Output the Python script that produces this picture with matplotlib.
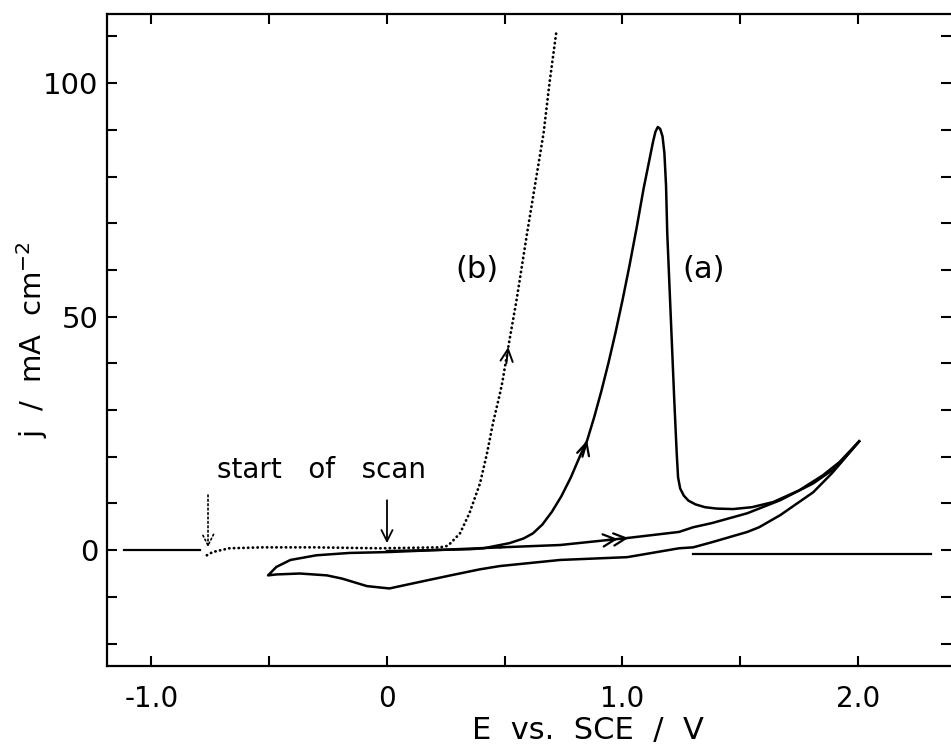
import matplotlib
matplotlib.use('Agg')
import matplotlib.pyplot as plt

# curve (a), first forward scan from 0 V up to the anodic limit
a_fwd_E = [0.0, 0.18, 0.35, 0.41, 0.52, 0.58, 0.62, 0.66, 0.70, 0.74, 0.78, 0.82, 0.85,
           0.88, 0.91, 0.94, 0.97, 1.00, 1.03, 1.06, 1.09, 1.11, 1.13, 1.14, 1.15, 1.16,
           1.17, 1.178, 1.185, 1.19, 1.20, 1.21, 1.22, 1.23, 1.236, 1.245, 1.26, 1.28,
           1.31, 1.35, 1.40, 1.47, 1.55, 1.64, 1.75, 1.85, 1.92, 2.005]
a_fwd_j = [-0.2, 0.0, 0.2, 0.4, 1.5, 2.5, 3.6, 5.5, 8.2, 11.5, 15.5, 20.2, 23.5,
           28.5, 34.0, 40.0, 46.5, 53.5, 61.0, 69.0, 77.5, 82.5, 87.5, 89.6, 90.6, 90.2,
           88.6, 85.0, 78.0, 68.0, 56.0, 44.0, 32.0, 21.0, 15.6, 13.2, 11.7, 10.6,
           9.8, 9.2, 8.9, 8.8, 9.2, 10.3, 12.8, 16.0, 18.8, 23.3]

# curve (a), reverse scan down to -0.5 V and back up to 0 V
a_rev_E = [2.005, 1.89, 1.81, 1.67, 1.58, 1.53, 1.38, 1.30, 1.24, 1.02, 0.735, 0.48, 0.395,
           0.27, 0.13, 0.01, -0.085, -0.19, -0.255, -0.37, -0.47, -0.505,
           -0.47, -0.41, -0.30, -0.16, 0.01, 0.20, 0.48]
a_rev_j = [23.3, 16.5, 12.4, 7.5, 4.9, 3.9, 1.7, 0.6, 0.4, -1.5, -2.1, -3.4, -4.1,
           -5.4, -6.9, -8.2, -7.7, -6.1, -5.4, -5.0, -5.2, -5.4,
           -3.6, -2.1, -1.1, -0.6, -0.4, 0.0, 0.6]

# curve (a), second forward scan
a_fwd2_E = [0.48, 0.735, 1.02, 1.24, 1.30, 1.38, 1.53, 1.67, 1.81, 1.91, 2.005]
a_fwd2_j = [0.6, 1.1, 2.6, 3.9, 4.9, 5.8, 7.9, 10.7, 14.3, 17.8, 23.3]

# curve (b), dotted
b_E = [-0.765, -0.74, -0.67, -0.53, -0.31, -0.03, 0.225, 0.255, 0.27, 0.31, 0.35, 0.395,
       0.425, 0.45, 0.48, 0.49, 0.515, 0.55, 0.595, 0.63, 0.665, 0.69, 0.72]
b_j = [-1.1, -0.4, 0.4, 0.6, 0.6, 0.4, 0.6, 0.9, 1.5, 3.6, 7.9, 14.3,
       20.8, 27.2, 33.6, 36.0, 43.5, 53.5, 67.9, 78.6, 89.3, 100.0, 111.3]

# zero-current reference lines
zero_left_E = [-1.117, -0.794]
zero_left_j = [0.0, 0.0]
zero_right_E = [1.30, 2.31]
zero_right_j = [-0.9, -0.9]

xtick_pos = [-1.0, 0.0, 1.0, 2.0]
xtick_labels = ['-1.0', '0', '1.0', '2.0']
ytick_pos = [0, 50, 100]
ytick_labels = ['0', '50', '100']

plt.rcParams['font.family'] = ['DejaVu Sans']

fig = plt.figure(figsize=(9.51, 7.51), dpi=100)
ax = fig.add_axes([0.1125, 0.1132, 0.8875, 0.8682])

lw = 1.8
ax.plot(a_fwd_E, a_fwd_j, color='black', lw=lw, solid_joinstyle='round')
ax.plot(a_rev_E, a_rev_j, color='black', lw=lw, solid_joinstyle='round')
ax.plot(a_fwd2_E, a_fwd2_j, color='black', lw=lw, solid_joinstyle='round')
ax.plot(b_E, b_j, color='black', lw=2.0, linestyle=(0, (0.1, 1.6)), dash_capstyle='round')
ax.plot(zero_left_E, zero_left_j, color='black', lw=1.6)
ax.plot(zero_right_E, zero_right_j, color='black', lw=1.6)

# arrow heads on the curves
head = dict(arrowstyle='->', color='black', lw=1.6, mutation_scale=22, shrinkA=0, shrinkB=0)
ax.annotate('', xy=(0.85, 23.5), xytext=(0.83, 20.0), arrowprops=head)
ax.annotate('', xy=(0.515, 43.5), xytext=(0.507, 40.0),
            arrowprops=dict(head, lw=1.4))
ax.annotate('', xy=(0.98, 2.4), xytext=(0.94, 2.2), arrowprops=head)
ax.annotate('', xy=(1.025, 2.6), xytext=(0.985, 2.4), arrowprops=head)

# start of scan markers
ax.annotate('', xy=(0.0, 1.5), xytext=(0.0, 10.7),
            arrowprops=dict(arrowstyle='->', color='black', lw=1.3, mutation_scale=20,
                            shrinkA=0, shrinkB=0))
ax.annotate('', xy=(-0.76, 0.6), xytext=(-0.76, 11.8),
            arrowprops=dict(arrowstyle='->', color='black', lw=1.2, mutation_scale=20,
                            linestyle=':', shrinkA=0, shrinkB=0))
ax.text(-0.276, 15.4, 'start   of   scan', fontsize=20, ha='center', va='baseline')
ax.text(0.382, 60, '(b)', fontsize=22, ha='center', va='center')
ax.text(1.346, 60, '(a)', fontsize=22, ha='center', va='center')

ax.set_xlim(-1.189, 2.395)
ax.set_ylim(-24.8, 114.8)

ax.set_xticks(xtick_pos, xtick_labels)
ax.set_xticks([-1.0, -0.5, 0.0, 0.5, 1.0, 1.5, 2.0], minor=True)
ax.set_yticks(ytick_pos, ytick_labels)
ax.set_yticks(range(-20, 111, 10), minor=True)
ax.tick_params(which='both', direction='in', top=True, right=True, length=7, width=1.5)
ax.tick_params(axis='x', which='major', labelsize=20, pad=14)
ax.tick_params(axis='y', which='major', labelsize=21, pad=6)
for side in ['left', 'top', 'bottom']:
    ax.spines[side].set_linewidth(1.6)
ax.spines['right'].set_visible(False)

ax.set_xlabel('E  vs.  SCE  /  V', fontsize=22)
ax.xaxis.set_label_coords(0.57, -0.077)
ax.set_ylabel('j  /  mA  cm$^{-2}$', fontsize=21)
ax.yaxis.set_label_coords(-0.068, 0.5)

plt.savefig('out.png', dpi=100)
plt.close()
